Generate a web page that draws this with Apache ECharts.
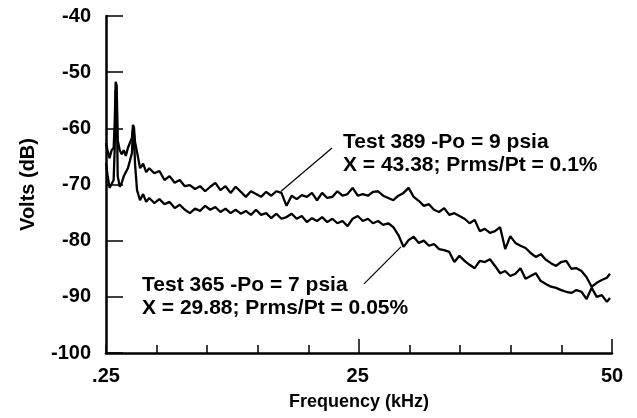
<!DOCTYPE html>
<html>
<head>
<meta charset="utf-8">
<script src="https://cdn.jsdelivr.net/npm/echarts@6/dist/echarts.min.js"></script>
<style>
  html, body { margin: 0; padding: 0; background: #fff; }
  #chart { width: 637px; height: 418px; }
</style>
</head>
<body>
<div id="chart"></div>
<script>
// Frequency samples (kHz), shared by both spectra
const freq = [
  0.25, 0.4, 0.6, 0.8, 1.0, 1.1, 1.2, 1.3, 1.4, 1.6, 1.8, 2.0, 2.2, 2.4, 2.6, 2.8, 2.9, 3.0, 3.1, 3.3,
  3.6, 3.9, 4.2, 4.5, 5.0, 5.5, 6.0, 6.5, 7.0, 7.5, 8.0, 8.5, 9.0, 9.5, 10.0, 10.5, 11.0, 11.5, 12.0, 12.5,
  13.0, 13.5, 14.0, 14.5, 15.0, 15.5, 16.0, 16.5, 17.0, 17.5, 18.0, 18.5, 19.0, 19.5, 20.0, 20.5, 21.0, 21.5,
  22.0, 22.5, 23.0, 23.5, 24.0, 24.5, 25.0, 25.5, 26.0, 26.5, 27.0, 27.5, 28.0, 28.5, 29.0, 29.5, 30.0, 30.5,
  31.0, 31.5, 32.0, 32.5, 33.0, 33.5, 34.0, 34.5, 35.0, 35.5, 36.0, 36.5, 37.0, 37.5, 38.0, 38.5, 39.0, 39.5,
  40.0, 40.5, 41.0, 41.5, 42.0, 42.5, 43.0, 43.5, 44.0, 44.5, 45.0, 45.5, 46.0, 46.5, 47.0, 47.5, 48.0, 48.5,
  49.0, 49.5, 49.8
];

// Test 389, Po = 9 psia (dB)
const test389 = [
  -62.6, -63.9, -65.3, -63.9, -63.5, -59.4, -51.7, -52.4, -62.1, -63.9, -64.6, -63.9, -64.9, -63.5, -62.6, -61.7, -59.4, -59.8, -62.4, -64.2,
  -67.1, -66.3, -67.8, -67.1, -68.0, -67.6, -69.2, -68.5, -69.7, -69.2, -70.3, -70.1, -70.8, -70.3, -71.2, -70.4, -69.7, -71.0, -70.3, -71.5,
  -70.4, -71.3, -72.2, -71.2, -71.7, -72.2, -71.3, -72.0, -71.2, -71.5, -73.8, -72.0, -72.6, -71.9, -72.2, -71.5, -72.8, -71.5,
  -72.4, -72.2, -71.2, -72.0, -71.7, -70.6, -72.0, -71.7, -72.0, -71.3, -71.2, -72.0, -72.4, -72.8, -72.0, -71.5, -70.6, -72.2,
  -72.9, -73.8, -73.5, -74.5, -74.9, -74.2, -75.4, -75.1, -75.6, -76.1, -76.9, -76.3, -78.3, -77.9, -78.6, -78.3, -77.6, -81.5,
  -79.2, -80.4, -80.9, -81.3, -82.2, -82.9, -82.4, -83.4, -84.0, -84.5, -83.8, -83.6, -85.0, -84.9, -85.4, -86.5, -88.2, -87.5,
  -87.0, -86.6, -85.9
];

// Test 365, Po = 7 psia (dB)
const test365 = [
  -66.2, -68.3, -70.6, -69.9, -69.2, -63.9, -53.2, -54.1, -68.5, -70.4, -69.7, -68.5, -67.8, -67.1, -65.8, -64.4, -60.3, -61.0, -66.2, -71.0,
  -72.8, -71.7, -73.1, -72.4, -73.3, -72.6, -73.5, -73.1, -74.2, -73.6, -74.5, -75.1, -74.3, -74.7, -73.8, -74.5, -74.0, -74.9, -74.3, -75.1,
  -74.5, -75.2, -74.7, -75.4, -74.5, -75.4, -75.1, -76.0, -75.2, -76.1, -75.8, -75.2, -76.1, -75.6, -76.7, -76.0, -76.5, -75.8,
  -76.7, -76.1, -76.9, -76.5, -77.4, -76.1, -75.6, -76.5, -76.1, -76.9, -76.5, -77.2, -76.9, -77.6, -79.0, -81.1, -79.9, -79.3,
  -80.4, -80.0, -80.9, -80.6, -81.5, -81.7, -82.0, -83.8, -82.7, -83.6, -84.3, -84.9, -83.6, -83.8, -83.3, -84.5, -85.8, -85.4,
  -86.3, -85.9, -84.9, -86.8, -86.3, -85.8, -87.2, -87.7, -88.2, -88.4, -88.8, -89.1, -89.3, -88.8, -89.1, -90.4, -88.4, -90.0,
  -89.7, -90.9, -90.2
];

// Axis ticks and labels
const xTicks = [0.25, 5.225, 10.2, 15.175, 20.15, 25.125, 30.1, 35.075, 40.05, 45.025, 50];
const xMajorTicks = [25.125, 50];
const xLabels = [0.25, 25, 50];

// Annotation texts and their leader lines ([freq, dB] end points)
const note389 = ['Test 389 -Po = 9 psia', 'X = 43.38; Prms/Pt = 0.1%'];
const note365 = ['Test 365 -Po = 7 psia', 'X = 29.88; Prms/Pt = 0.05%'];
const leader389 = [[17.46, -71.2], [22.47, -63.5]];
const leader365 = [[25.62, -87.7], [29.25, -81.1]];

const FONT = '"Liberation Sans", Arial, Helvetica, sans-serif';
const pairs = (vals) => freq.map((f, i) => [f, vals[i]]);
const leader = (pts) => [{ coord: pts[0] }, { coord: pts[1] }];

const chart = echarts.init(document.getElementById('chart'), null, { renderer: 'canvas' });

chart.setOption({
  animation: false,
  backgroundColor: '#fff',
  textStyle: { fontFamily: FONT, color: '#000' },
  grid: { left: 106, right: 25, top: 16, bottom: 65 },
  xAxis: [
    {
      type: 'value', min: 0.25, max: 50,
      axisLine: { show: true, lineStyle: { color: '#000', width: 2.5 } },
      axisTick: { show: true, inside: true, length: 8, customValues: xTicks, lineStyle: { color: '#000', width: 1.5 } },
      axisLabel: { show: false },
      splitLine: { show: false },
      name: 'Frequency (kHz)', nameLocation: 'middle', nameGap: 40,
      nameTextStyle: { fontFamily: FONT, fontWeight: 'bold', fontSize: 18, color: '#000' }
    },
    {
      type: 'value', min: 0.25, max: 50, position: 'bottom',
      axisLine: { show: false },
      axisTick: { show: true, inside: true, length: 14, customValues: xMajorTicks, lineStyle: { color: '#000', width: 1.5 } },
      axisLabel: {
        show: true, customValues: xLabels, margin: 13,
        fontFamily: FONT, fontWeight: 'bold', fontSize: 20, color: '#000',
        formatter: (v) => (v < 1 ? String(v).replace(/^0/, '') : String(v))
      },
      splitLine: { show: false }
    }
  ],
  yAxis: {
    type: 'value', min: -100, max: -40, interval: 10,
    axisLine: { show: true, lineStyle: { color: '#000', width: 2.5 } },
    axisTick: { show: true, inside: true, length: 17, lineStyle: { color: '#000', width: 1.5 } },
    axisLabel: { margin: 15, fontFamily: FONT, fontWeight: 'bold', fontSize: 20, color: '#000' },
    splitLine: { show: false },
    name: 'Volts (dB)', nameLocation: 'middle', nameRotate: 90, nameGap: 68,
    nameTextStyle: { fontFamily: FONT, fontWeight: 'bold', fontSize: 20, color: '#000' }
  },
  series: [
    {
      name: 'Test 389', type: 'line', xAxisIndex: 0, data: pairs(test389),
      showSymbol: false, symbol: 'none',
      lineStyle: { color: '#000', width: 2.3 },
      markLine: {
        silent: true, symbol: 'none', label: { show: false },
        lineStyle: { color: '#000', width: 1.2, type: 'solid' },
        data: [leader(leader389)]
      }
    },
    {
      name: 'Test 365', type: 'line', xAxisIndex: 0, data: pairs(test365),
      showSymbol: false, symbol: 'none',
      lineStyle: { color: '#000', width: 2.3 },
      markLine: {
        silent: true, symbol: 'none', label: { show: false },
        lineStyle: { color: '#000', width: 1.2, type: 'solid' },
        data: [leader(leader365)]
      }
    }
  ],
  graphic: [
    {
      type: 'text', left: 343, top: 131,
      style: { text: note389.join('\n'), font: 'bold 21px ' + FONT, lineHeight: 23, fill: '#000' }
    },
    {
      type: 'text', left: 142, top: 274,
      style: { text: note365.join('\n'), font: 'bold 21px ' + FONT, lineHeight: 23, fill: '#000' }
    }
  ]
});
</script>
</body>
</html>
